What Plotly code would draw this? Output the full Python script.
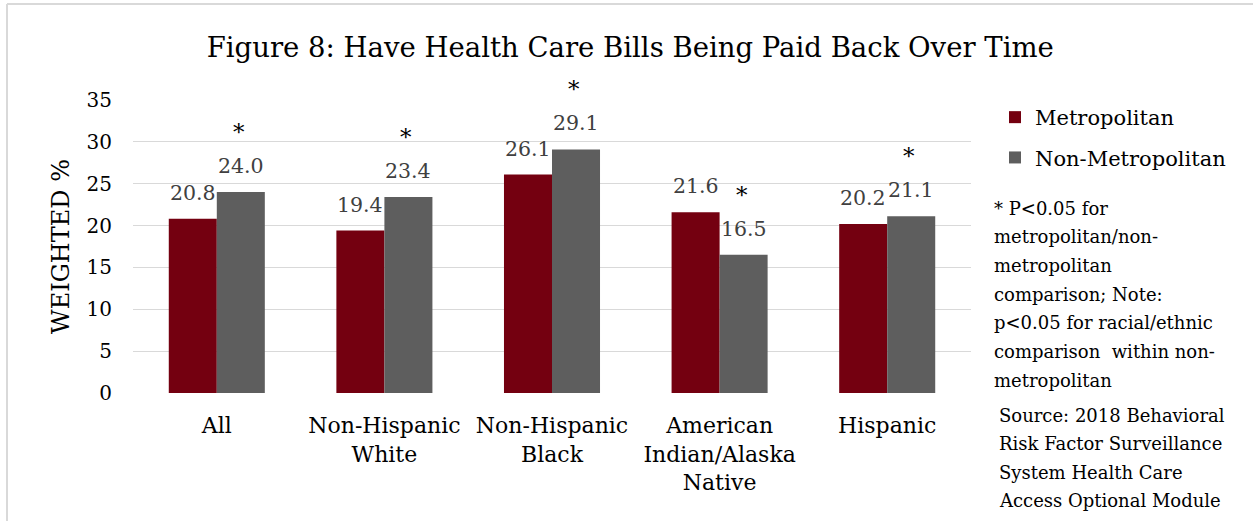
import plotly.graph_objects as go

# Survey results: share (weighted %) with health care bills being paid back over time
categories = ["All", "Non-Hispanic<br>White", "Non-Hispanic<br>Black",
              "American<br>Indian/Alaska<br>Native", "Hispanic"]
metro = [20.8, 19.4, 26.1, 21.6, 20.2]
non_metro = [24.0, 23.4, 29.1, 16.5, 21.1]
# Significant metro/non-metro difference flagged with an asterisk above the non-metro bar
significant = [True, True, True, True, True]

note_lines = ["* P<0.05 for", "metropolitan/non-", "metropolitan",
              "comparison; Note:", "p<0.05 for racial/ethnic",
              "comparison  within non-", "metropolitan"]
source_lines = ["Source: 2018 Behavioral", "Risk Factor Surveillance",
                "System Health Care", "Access Optional Module"]

FONT = "DejaVu Serif"
RED = "#740010"
GRAY = "#5e5e5e"
W, H = 1253, 521
ML, MR, MT, MB = 133, 282, 100, 128
PW, PH = W - ML - MR, H - MT - MB


def px_x(p):
    return (p - ML) / PW


def px_y(p):
    return (H - MB - p) / PH


fig = go.Figure()
fig.add_trace(go.Bar(x=categories, y=metro, name="Metropolitan",
                     marker=dict(color=RED, line=dict(width=0)),
                     legendgroup="a"))
fig.add_trace(go.Bar(x=categories, y=non_metro, name="Non-Metropolitan",
                     marker=dict(color=GRAY, line=dict(width=0)),
                     legendgroup="b"))

annotations = []
for cat, m, n, sig in zip(categories, metro, non_metro, significant):
    annotations.append(dict(x=cat, y=m, xref="x", yref="y", text=f"{m:.1f}",
                            showarrow=False, xshift=-24, yshift=26,
                            yanchor="middle",
                            font=dict(family=FONT, size=20.5, color="#404040")))
    annotations.append(dict(x=cat, y=n, xref="x", yref="y", text=f"{n:.1f}",
                            showarrow=False, xshift=24, yshift=26,
                            yanchor="middle",
                            font=dict(family=FONT, size=20.5, color="#404040")))
    if sig:
        annotations.append(dict(x=cat, y=n, xref="x", yref="y", text="*",
                                showarrow=False, xshift=22, yshift=60,
                                yanchor="middle",
                                font=dict(family=FONT, size=23, color="#000000")))

for i, line in enumerate(note_lines):
    annotations.append(dict(x=px_x(992), y=px_y(208 + i * 28.7),
                            xref="paper", yref="paper", text=line,
                            showarrow=False, xanchor="left", yanchor="middle",
                            font=dict(family=FONT, size=18, color="#000000")))
for i, line in enumerate(source_lines):
    annotations.append(dict(x=px_x(997), y=px_y(415 + i * 28.5),
                            xref="paper", yref="paper", text=line,
                            showarrow=False, xanchor="left", yanchor="middle",
                            font=dict(family=FONT, size=18, color="#000000")))

# Light chart-area frame along the top and left edges
shapes = [
    dict(type="line", xref="paper", yref="paper",
         x0=px_x(7), x1=px_x(W + 5), y0=px_y(4), y1=px_y(4),
         line=dict(color="#d9d9d9", width=2)),
    dict(type="line", xref="paper", yref="paper",
         x0=px_x(7), x1=px_x(7), y0=px_y(4), y1=px_y(H + 5),
         line=dict(color="#d9d9d9", width=2)),
]

fig.update_layout(
    width=W, height=H,
    margin=dict(l=ML, r=MR, t=MT, b=MB),
    paper_bgcolor="white", plot_bgcolor="white",
    barmode="group", bargap=0.427, bargroupgap=0,
    title=dict(text="Figure 8: Have Health Care Bills Being Paid Back Over Time",
               x=0.503, xref="container", xanchor="center",
               y=1 - 47 / H, yref="container", yanchor="middle",
               font=dict(family=FONT, size=27.5, color="#000000")),
    font=dict(family=FONT, color="#000000"),
    showlegend=True,
    legend=dict(x=px_x(995), y=px_y(97), xanchor="left", yanchor="top",
                font=dict(family=FONT, size=21, color="#000000"),
                tracegroupgap=10, traceorder="grouped",
                bgcolor="rgba(0,0,0,0)"),
    annotations=annotations,
    shapes=shapes,
)

fig.update_yaxes(range=[0, 35], dtick=5, showgrid=True, gridcolor="#d9d9d9",
                 gridwidth=1.3, zeroline=False, showline=False, ticks="",
                 tickfont=dict(family=FONT, size=20, color="#000000"),
                 ticklabelstandoff=20,
                 title=dict(text="WEIGHTED %", standoff=10,
                            font=dict(family=FONT, size=24, color="#000000")))
fig.update_xaxes(showgrid=False, showline=False, ticks="",
                 tickfont=dict(family=FONT, size=22, color="#000000"),
                 ticklabelstandoff=17)

fig.write_html("out.html")
